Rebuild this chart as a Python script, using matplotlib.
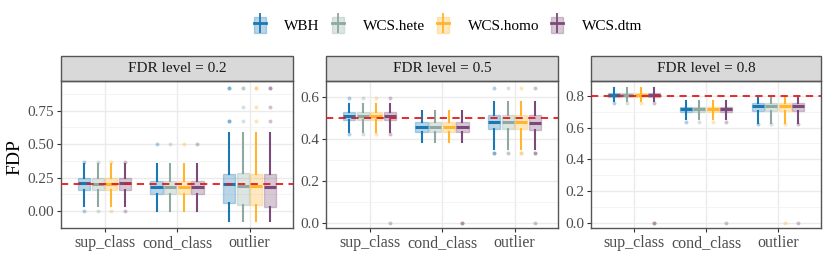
import numpy as np
import matplotlib
matplotlib.use("Agg")
import matplotlib.pyplot as plt
from matplotlib.patches import Rectangle, Patch
from matplotlib.lines import Line2D
from matplotlib.legend_handler import HandlerTuple

plt.rcParams['font.family'] = ['Liberation Serif', 'DejaVu Serif']

methods = ["WBH", "WCS.hete", "WCS.homo", "WCS.dtm"]
colors = ["#1a78b4", "#8ea99f", "#ffb52e", "#7b4a78"]
categories = ["sup_class", "cond_class", "outlier"]
levels = [0.2, 0.5, 0.8]

# five-number summaries [whisker_lo, q1, median, q3, whisker_hi] per category, per method
fdr02_stats = [
    [[0.04, 0.16, 0.21, 0.245, 0.35], [0.04, 0.16, 0.20, 0.245, 0.35],
     [0.04, 0.16, 0.20, 0.245, 0.35], [0.04, 0.16, 0.21, 0.245, 0.35]],
    [[0.0, 0.125, 0.18, 0.225, 0.355], [0.0, 0.125, 0.18, 0.225, 0.355],
     [0.0, 0.125, 0.18, 0.225, 0.355], [0.0, 0.125, 0.18, 0.225, 0.355]],
    [[-0.075, 0.06, 0.20, 0.275, 0.585], [-0.075, 0.045, 0.185, 0.285, 0.585],
     [-0.075, 0.045, 0.19, 0.28, 0.585], [-0.075, 0.03, 0.18, 0.275, 0.585]],
]
fdr02_out = [
    [[0.0, 0.37], [0.0, 0.37], [0.0, 0.37], [0.0, 0.37]],
    [[0.5], [0.5], [0.5], [0.5]],
    [[0.67, 0.67, 0.92, 0.92], [0.67, 0.78, 0.92, 0.92],
     [0.67, 0.78, 0.92, 0.92], [0.67, 0.78, 0.92, 0.92]],
]

fdr05_stats = [
    [[0.43, 0.489, 0.508, 0.526, 0.565], [0.43, 0.489, 0.506, 0.526, 0.565],
     [0.43, 0.489, 0.506, 0.526, 0.565], [0.43, 0.489, 0.508, 0.526, 0.565]],
    [[0.383, 0.433, 0.456, 0.478, 0.532], [0.383, 0.433, 0.455, 0.478, 0.532],
     [0.383, 0.433, 0.455, 0.478, 0.532], [0.383, 0.433, 0.455, 0.478, 0.532]],
    [[0.35, 0.446, 0.481, 0.513, 0.576], [0.35, 0.446, 0.478, 0.513, 0.576],
     [0.35, 0.446, 0.478, 0.513, 0.576], [0.35, 0.443, 0.475, 0.513, 0.576]],
]
fdr05_out = [
    [[0.425, 0.592], [0.425, 0.592], [0.425, 0.592], [0.425, 0.592, 0.0]],
    [[], [], [], [0.0, 0.0]],
    [[0.333, 0.333, 0.64], [0.333, 0.333, 0.64], [0.333, 0.333, 0.64], [0.333, 0.333, 0.64, 0.0]],
]

fdr08_stats = [
    [[0.767, 0.794, 0.806, 0.819, 0.847]] * 4,
    [[0.651, 0.70, 0.714, 0.731, 0.767]] * 4,
    [[0.63, 0.704, 0.735, 0.752, 0.787]] * 4,
]
fdr08_out = [
    [[0.756], [0.756], [0.756], [0.756, 0.0, 0.0]],
    [[0.636], [0.636], [0.636], [0.636, 0.0]],
    [[0.625], [0.625], [0.625, 0.0], [0.625, 0.0]],
]

all_stats = [fdr02_stats, fdr05_stats, fdr08_stats]
all_out = [fdr02_out, fdr05_out, fdr08_out]

yticks = [[0, 0.25, 0.5, 0.75], [0, 0.2, 0.4, 0.6], [0, 0.2, 0.4, 0.6, 0.8]]
yfmt = ["{:.2f}", "{:.1f}", "{:.1f}"]
yminor = [[0.125, 0.375, 0.625, 0.875], [0.1, 0.3, 0.5], [0.1, 0.3, 0.5, 0.7]]
ylims = [(-0.125, 0.97), (-0.025, 0.675), (-0.033, 0.893)]

fig = plt.figure(figsize=(8.3, 2.77), dpi=100)
W, H = 830, 277
lefts = [61, 326, 591]
widths = [232, 232, 230]
grey_txt = "#4d4d4d"

step = 0.75 / 4
bw = step * 0.9
for p in range(3):
    ax = fig.add_axes([lefts[p] / W, (H - 228) / H, widths[p] / W, 147 / H])
    ax.set_xlim(0.4, 3.6)
    ax.set_ylim(*ylims[p])
    ax.set_xticks([1, 2, 3])
    ax.set_xticklabels(categories, fontsize=11.5, color=grey_txt)
    ax.set_yticks(yticks[p])
    ax.set_yticklabels([yfmt[p].format(t) for t in yticks[p]], fontsize=11, color=grey_txt)
    ax.set_yticks(yminor[p], minor=True)
    ax.set_xticks([1.5, 2.5], minor=True)
    ax.grid(which="major", color="#ebebeb", lw=1.0)
    ax.grid(which="minor", axis="y", color="#f2f2f2", lw=0.6)
    ax.set_axisbelow(True)
    ax.tick_params(which="minor", length=0)
    ax.tick_params(which="major", length=3, color="#333333", width=0.8, pad=2)
    for s in ax.spines.values():
        s.set_color("#555555")
        s.set_linewidth(1.0)

    for c in range(3):
        for m in range(4):
            lo, q1, med, q3, hi = all_stats[p][c][m]
            pos = c + 1 + (m - 1.5) * step
            col = colors[m]
            st = [dict(whislo=lo, q1=q1, med=med, q3=q3, whishi=hi, fliers=[])]
            ax.bxp(st, positions=[pos], widths=bw, patch_artist=True, showcaps=False,
                   boxprops=dict(facecolor=col, alpha=0.3, edgecolor=col, lw=1.0),
                   whiskerprops=dict(color=col, lw=1.5),
                   medianprops=dict(color=col, lw=2.2, solid_capstyle="butt"),
                   manage_ticks=False, zorder=3)
            outs = all_out[p][c][m]
            if outs:
                ax.scatter([pos] * len(outs), outs, s=8, color=col, alpha=0.35,
                           lw=0, zorder=4)
    ax.axhline(levels[p], color="#e41a1c", ls=(0, (4, 3)), lw=1.3, zorder=5)

    strip_h = 25 / 147
    ax.add_patch(Rectangle((0, 1), 1, strip_h, transform=ax.transAxes, clip_on=False,
                           facecolor="#d9d9d9", edgecolor="#555555", lw=1.0))
    ax.text(0.5, 1 + strip_h / 2, "FDR level = {}".format(levels[p]), transform=ax.transAxes,
            ha="center", va="center", fontsize=11, color="#1a1a1a")

fig.text(15 / W, 1 - 157 / H, "FDP", rotation=90, ha="center", va="center", fontsize=14)

handles = []
for col in colors:
    handles.append((Patch(facecolor=col, alpha=0.3, edgecolor=col),
                    Line2D([], [], color=col, marker="|", markersize=14, ls="none", mew=1.3),
                    Line2D([], [], color=col, lw=2)))
fig.legend(handles, methods, handler_map={tuple: HandlerTuple(ndivide=1)},
           loc="center", bbox_to_anchor=(448 / W, 1 - 25 / H), ncol=4, frameon=False,
           fontsize=11, handlelength=0.8, handleheight=1.2, columnspacing=0.8,
           handletextpad=1.2)

fig.savefig("out.png", dpi=100)
